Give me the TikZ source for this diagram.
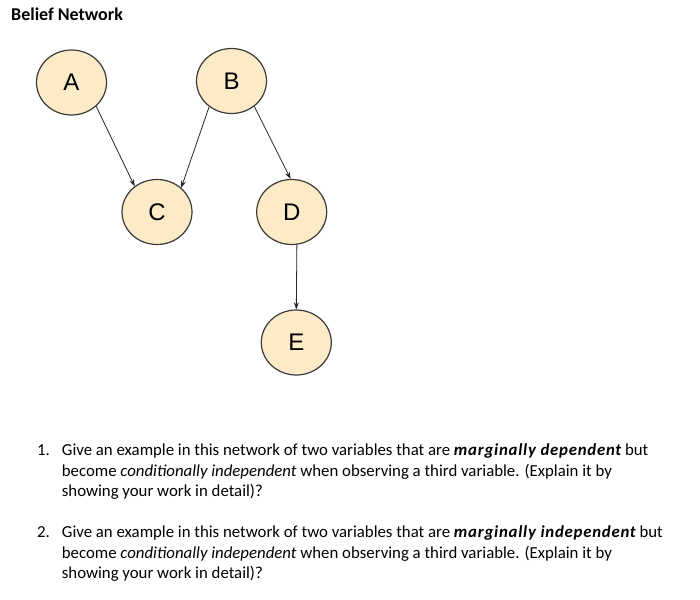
\documentclass[tikz,border=0pt]{standalone}
\usepackage{fontspec}
\setmainfont{Carlito}
\newfontfamily\arialf{Liberation Sans}
\usetikzlibrary{shapes.geometric,arrows.meta}
\definecolor{varfill}{HTML}{FCEBC6}
\definecolor{varline}{HTML}{3A3A3A}
\newcommand\bitext[1]{{\bfseries\itshape\addfontfeatures{LetterSpace=4.5}#1}}
\begin{document}
\begin{tikzpicture}[x=1pt,y=-1pt,
  var/.style={ellipse, draw=varline, line width=1.2pt, fill=varfill, minimum width=70pt, minimum height=65pt, inner sep=0pt, font=\arialf\fontsize{24}{26}\selectfont},
  edge/.style={-{Stealth[length=7pt,width=5pt]}, line width=0.8pt, draw=black!85},
  body/.style={anchor=base west, inner sep=0pt, font=\fontsize{16.8}{20.5}\selectfont},
  title/.style={anchor=base west, inner sep=0pt, font=\bfseries\fontsize{18}{20}\selectfont}]
\useasboundingbox[fill=white] (0,0) rectangle (700,599);
\node[title] (t) at (11,20.5) {Belief Network};
\node[var] (A) at (71.5,82.5) {A};
\node[var] (B) at (231.5,81) {B};
\node[var] (C) at (157,212) {C};
\node[var] (D) at (291.7,212) {D};
\node[var] (E) at (296.3,342.5) {E};
\draw[edge] (A.-44.5) -- (C.131);
\draw[edge] (B.-131) -- (C.45);
\draw[edge] (B.-48) -- (D.92);
\draw[edge] (D.-81) -- (E.90);
\node[body] (n1) at (37,455.7) {1.};
\node[body] (q1) at (61.7,455.7) {\vtop{\hbox{Give an example in this network of two variables that are \bitext{marginally dependent} but}\hbox{become \textit{conditionally independent} when observing a third variable. (Explain it by}\hbox{showing your work in detail)?}}};
\node[body] (n2) at (37,537.7) {2.};
\node[body] (q2) at (61.7,537.7) {\vtop{\hbox{Give an example in this network of two variables that are \bitext{marginally independent} but}\hbox{become \textit{conditionally independent} when observing a third variable. (Explain it by}\hbox{showing your work in detail)?}}};
\end{tikzpicture}
\end{document}
